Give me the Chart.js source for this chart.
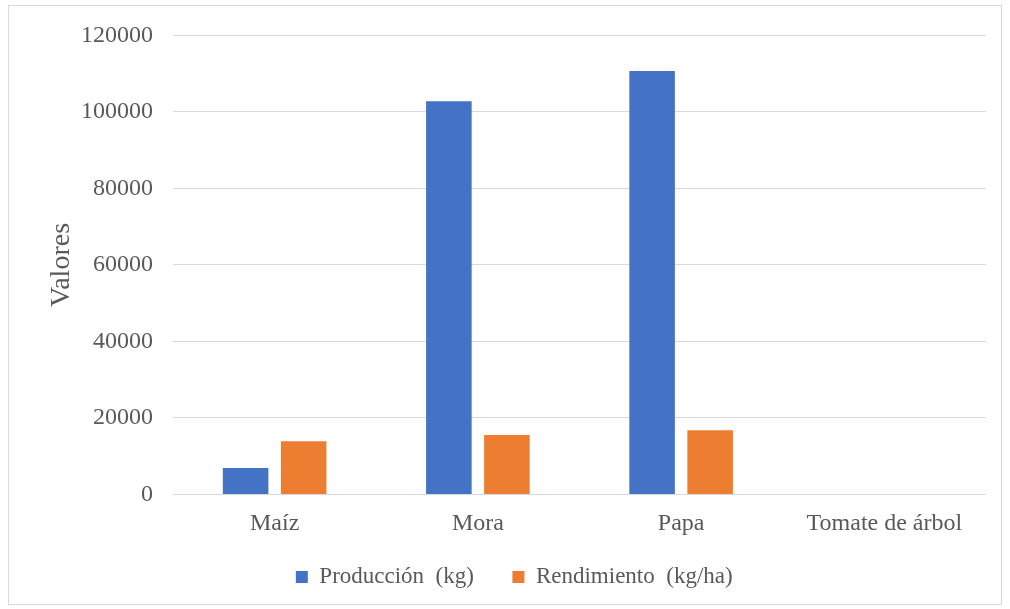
<!DOCTYPE html>
<html>
<head>
<meta charset="utf-8">
<script src="https://cdn.jsdelivr.net/npm/chart.js@4/dist/chart.umd.min.js"></script>
<style>
  html, body { margin: 0; padding: 0; background: #ffffff; overflow: hidden; }
  #frame {
    position: absolute; left: 8px; top: 5px;
    width: 992px; height: 598px;
    border: 1px solid #d9d9d9;
  }
  #chart { position: absolute; left: 9px; top: 1px; display: block; }
</style>
</head>
<body>
<div id="frame"></div>
<canvas id="chart" width="992" height="603"></canvas>
<script>
// Crops and their measured values
const categories = ['Maíz', 'Mora', 'Papa', 'Tomate de árbol'];
const produccion = [6900, 102800, 110700, 0];
const rendimiento = [13900, 15550, 16800, 0];
const seriesNames = ['Producción  (kg)  ', 'Rendimiento  (kg/ha)'];
const yTicks = [0, 20000, 40000, 60000, 80000, 100000, 120000];

const textColor = '#595959';
const gridColor = '#d9d9d9';
const serif = "'Liberation Serif', 'Times New Roman', serif";

new Chart(document.getElementById('chart'), {
  type: 'bar',
  data: {
    labels: categories,
    datasets: [
      { label: seriesNames[0], data: produccion, backgroundColor: '#4472C4',
        barPercentage: 0.785, categoryPercentage: 0.571 },
      { label: seriesNames[1], data: rendimiento, backgroundColor: '#ED7D31',
        barPercentage: 0.785, categoryPercentage: 0.571 }
    ]
  },
  options: {
    responsive: false,
    animation: false,
    layout: { padding: { top: 10, right: 15, left: 33.5, bottom: 5.5 } },
    plugins: {
      tooltip: { enabled: false },
      legend: {
        position: 'bottom',
        labels: {
          color: textColor,
          font: { family: serif, size: 23 },
          boxWidth: 12, boxHeight: 12,
          padding: 27
        }
      }
    },
    scales: {
      x: {
        afterFit: (scale) => { scale.height = 44; },
        grid: { display: false, drawTicks: false },
        border: { display: false },
        ticks: { color: textColor, font: { family: serif, size: 24 }, padding: 15 }
      },
      y: {
        min: yTicks[0],
        max: yTicks[yTicks.length - 1],
        afterBuildTicks: (scale) => { scale.ticks = yTicks.map(v => ({ value: v })); },
        afterFit: (scale) => { scale.width = 130.5; },
        grid: { color: gridColor, lineWidth: 1, drawTicks: false },
        border: { display: false },
        ticks: {
          color: textColor,
          font: { family: serif, size: 24 },
          padding: 20,
          callback: (v) => String(v)
        },
        title: {
          display: true,
          text: 'Valores',
          color: textColor,
          font: { family: serif, size: 28, lineHeight: 1 },
          padding: { top: 5.5, bottom: 0 }
        }
      }
    }
  }
});
</script>
</body>
</html>
